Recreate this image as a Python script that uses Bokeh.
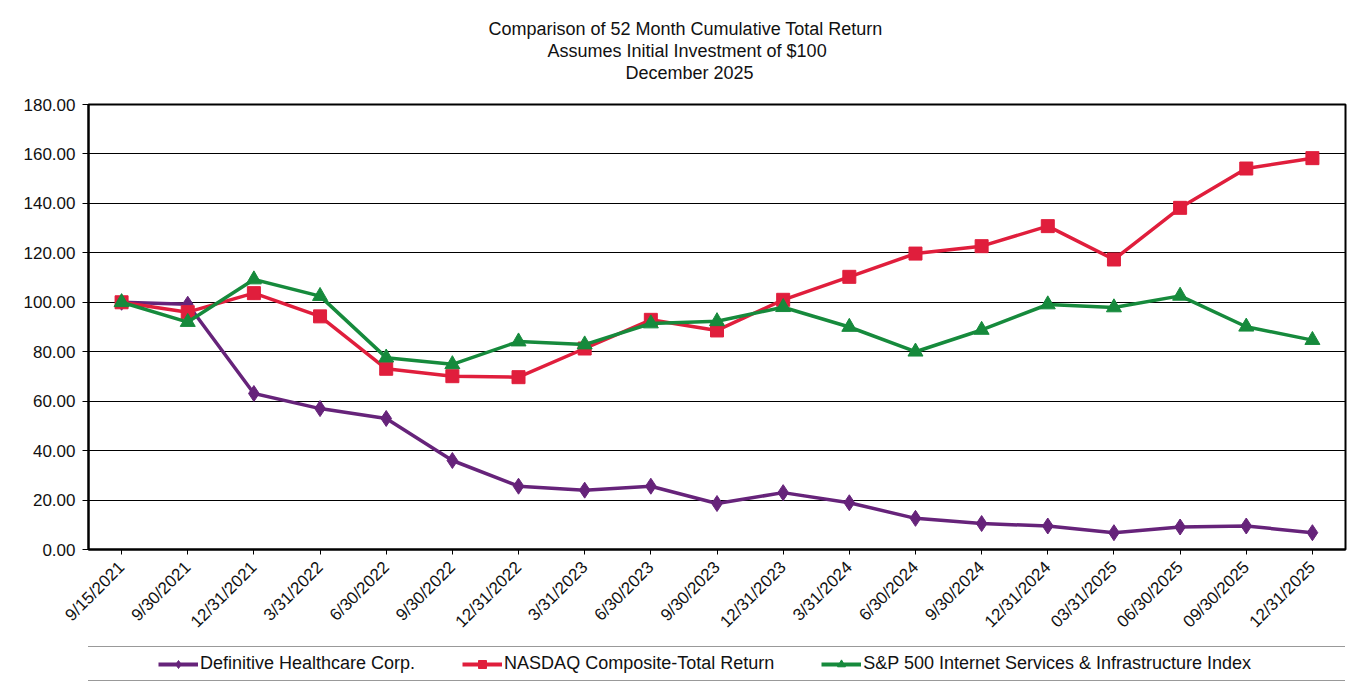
import math
from bokeh.plotting import figure
from bokeh.layouts import column
from bokeh.models import (FactorRange, Range1d, Legend, LegendItem, Title,
                          NumeralTickFormatter, FixedTicker)
from bokeh.embed import file_html
from bokeh.resources import INLINE

# ---- data ----
dates = ["9/15/2021", "9/30/2021", "12/31/2021", "3/31/2022", "6/30/2022",
         "9/30/2022", "12/31/2022", "3/31/2023", "6/30/2023", "9/30/2023",
         "12/31/2023", "3/31/2024", "6/30/2024", "9/30/2024", "12/31/2024",
         "03/31/2025", "06/30/2025", "09/30/2025", "12/31/2025"]
definitive = [100.0, 99.2, 63.1, 57.0, 53.0, 36.0, 25.6, 24.0, 25.6, 18.6,
              23.0, 18.9, 12.6, 10.5, 9.5, 6.8, 9.1, 9.5, 6.8]
nasdaq = [100.0, 96.0, 103.7, 94.3, 73.1, 70.1, 69.7, 81.3, 92.9, 88.6,
          101.0, 110.3, 119.7, 122.7, 130.8, 117.3, 138.2, 154.1, 158.3]
sp_internet = [100.0, 92.0, 109.2, 102.5, 77.6, 74.9, 84.1, 82.9, 91.4, 92.3,
               98.0, 90.0, 80.0, 88.8, 99.1, 97.9, 102.6, 90.1, 84.7]
series_names = ["Definitive Healthcare Corp.",
                "NASDAQ Composite-Total Return",
                "S&P 500 Internet Services & Infrastructure Index"]
title_lines = ["Comparison of 52 Month Cumulative Total Return",
               "Assumes Initial Investment of $100",
               "December 2025"]
y_ticks = list(range(0, 181, 20))

FONT = "Liberation Sans"
TXT = "#111111"
PURPLE = "#66237A"
RED = "#E01E3C"
GREEN = "#168A3C"

specs = [(definitive, PURPLE, "diamond", 16),
         (nasdaq, RED, "square", 13),
         (sp_internet, GREEN, "triangle", 15)]

# ---------------- main chart ----------------
p = figure(width=1364, height=644, title=None,
           x_range=FactorRange(*dates, range_padding=0),
           y_range=Range1d(0, 180),
           output_backend="svg", toolbar_location=None,
           min_border_left=88, min_border_right=19,
           min_border_top=104, min_border_bottom=95)
p.background_fill_color = "white"
p.border_fill_color = "white"
p.outline_line_color = "black"
p.outline_line_width = 2

p.yaxis.ticker = FixedTicker(ticks=y_ticks)
p.yaxis.formatter = NumeralTickFormatter(format="0.00")
p.yaxis.major_label_text_font = FONT
p.yaxis.major_label_text_font_size = "17px"
p.yaxis.major_label_text_color = TXT
p.yaxis.axis_line_width = 2
p.yaxis.major_tick_out = 6
p.yaxis.major_tick_in = 0
p.yaxis.minor_tick_line_color = None
p.yaxis.major_label_standoff = 7

p.xaxis.major_label_orientation = math.pi / 4
p.xaxis.major_label_text_font = FONT
p.xaxis.major_label_text_font_size = "17px"
p.xaxis.major_label_text_color = TXT
p.xaxis.axis_line_width = 2
p.xaxis.major_tick_out = 5
p.xaxis.major_tick_in = 0
p.xaxis.major_label_standoff = 10

p.xgrid.grid_line_color = None
p.ygrid.ticker = FixedTicker(ticks=y_ticks)
p.ygrid.grid_line_color = "black"
p.ygrid.grid_line_width = 1

for vals, col, mk, sz in specs:
    p.line(dates, vals, line_color=col, line_width=3.5)
    p.scatter(dates, vals, marker=mk, size=sz, fill_color=col, line_color=col)

# title lines (closest to the plot added first)
p.add_layout(Title(text=" ", standoff=0, text_font=FONT,
                   text_font_size="18px"), "above")
offsets = [400, 459, 537]
for txt, off in reversed(list(zip(title_lines, offsets))):
    p.add_layout(Title(text=txt, align="left", offset=off, standoff=0,
                       text_font=FONT, text_font_size="18px",
                       text_font_style="normal", text_color=TXT), "above")

# ---------------- legend strip ----------------
lg = figure(width=1364, height=44, title=None,
            x_range=FactorRange(*dates, range_padding=0),
            y_range=Range1d(1000, 1001),
            x_axis_location=None, y_axis_location=None,
            output_backend="svg", toolbar_location=None,
            min_border_left=0, min_border_right=0,
            min_border_top=0, min_border_bottom=0)
lg.background_fill_color = "white"
lg.border_fill_color = "white"
lg.outline_line_color = None
lg.grid.visible = False

spacer = lg.line(dates, definitive, line_alpha=0)
items = [LegendItem(label="", renderers=[spacer])]
for (vals, col, mk, sz), name in zip(specs, series_names):
    lr = lg.line(dates, vals, line_color=col, line_width=4)
    sr = lg.scatter(dates, vals, marker=mk, size=9, fill_color=col, line_color=col)
    items.append(LegendItem(label=name, renderers=[lr, sr]))
items.append(LegendItem(label="", renderers=[spacer]))

legend = Legend(items=items, location=(-26, 7), orientation="horizontal",
                padding=6, margin=0, spacing=47, label_width=0,
                border_line_color="#333333", border_line_width=1.5,
                background_fill_color="white",
                glyph_width=40, glyph_height=20, label_standoff=2,
                label_text_font=FONT, label_text_font_size="18px",
                label_text_color=TXT)
lg.add_layout(legend)

layout = column(p, lg, spacing=0)
open("out.html", "w").write(file_html(layout, INLINE))
